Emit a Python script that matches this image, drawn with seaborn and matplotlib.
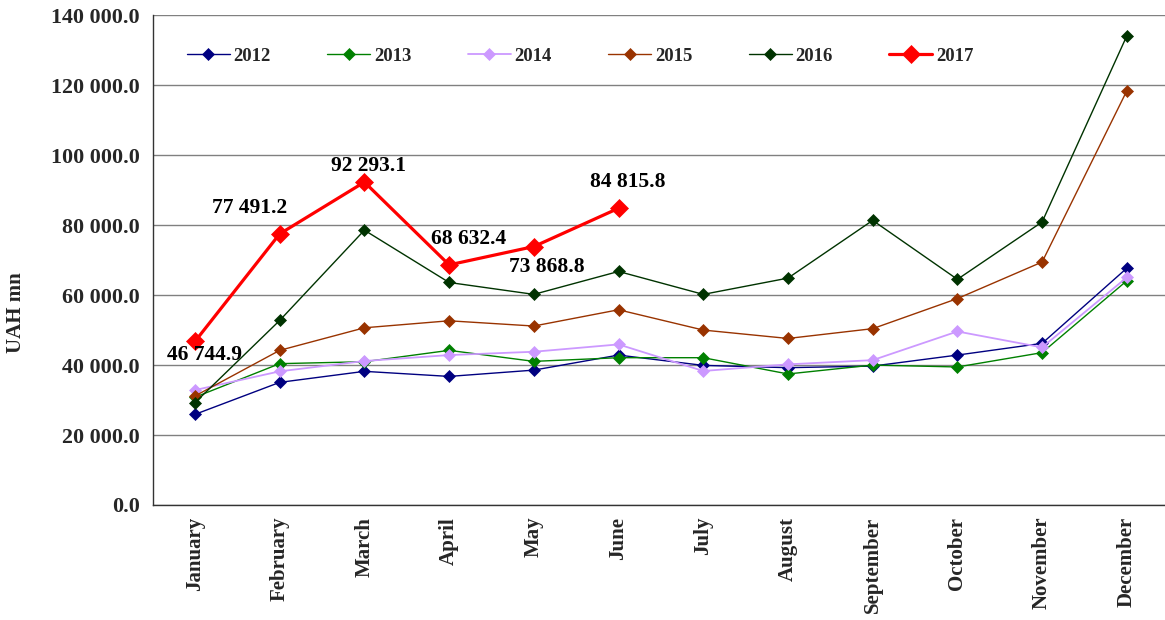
import matplotlib
matplotlib.use("Agg")
import matplotlib.pyplot as plt
import matplotlib.ticker as mticker
import numpy as np
import seaborn as sns

months = ["January", "February", "March", "April", "May", "June", "July",
          "August", "September", "October", "November", "December"]
y2012 = [25900, 35050, 38200, 36750, 38550, 42850, 39900, 39250, 39700, 42850, 46200, 67700]
y2013 = [30800, 40400, 40950, 44200, 41050, 42100, 42100, 37450, 40000, 39450, 43550, 64100]
y2014 = [32850, 38200, 41150, 42850, 43800, 45900, 38300, 40200, 41400, 49600, 45050, 65050]
y2015 = [31150, 44200, 50650, 52650, 51150, 55800, 50000, 47600, 50400, 59000, 69450, 118400]
y2016 = [29250, 52750, 78550, 63600, 60200, 66750, 60200, 64850, 81350, 64500, 80900, 134100]
y2017 = [46744.9, 77491.2, 92293.1, 68632.4, 73868.8, 84815.8]

years = ["2012", "2013", "2014", "2015", "2016", "2017"]
series = [y2012, y2013, y2014, y2015, y2016, y2017]
colors = ["#000080", "#008000", "#CC99FF", "#993300", "#003300", "#FF0000"]

sns.set_theme(style="white")
plt.rcParams["font.family"] = ["Liberation Serif", "DejaVu Serif"]
plt.rcParams["font.weight"] = "bold"

fig = plt.figure(figsize=(11.65, 6.2), dpi=100)
ax = fig.add_axes([0.131, 0.1855, 0.8726, 0.790])

for year, vals, col in zip(years, series, colors):
    big = year == "2017"
    sns.lineplot(x=np.arange(len(vals)), y=vals, ax=ax, color=col, label=year,
                 marker="D", markersize=9 if big else (6.5 if year == "2014" else 5.8),
                 markeredgecolor=col, markeredgewidth=0.5,
                 linewidth=2.3 if big else (1.3 if year == "2014" else 1.0),
                 zorder=5 if big else 3)

# data labels for 2017 (offsets in pixels, as placed in the original)
label_offsets = [(10, -14), (-30, 26), (4, 16), (19, 26), (13, -20), (9, 26)]
for i, (v, off) in enumerate(zip(y2017, label_offsets)):
    ax.annotate(f"{v:,.1f}".replace(",", " "), (i, v), xytext=off,
                textcoords="offset pixels", ha="center", va="center",
                fontsize=15.5, fontweight="bold", color="black", zorder=6)

ax.set_xlim(-0.5, 11.5)
ax.set_ylim(0, 140000)
ax.yaxis.set_major_locator(mticker.MultipleLocator(20000))
ax.yaxis.set_major_formatter(mticker.FuncFormatter(lambda v, p: f"{v:,.1f}".replace(",", " ")))
ax.grid(axis="y", color="#808080", linewidth=1)
ax.set_axisbelow(True)

ax.set_xticks(np.arange(len(months)))
ax.set_xticklabels(months, rotation=90, fontsize=15, fontweight="bold")
ax.set_xticks(np.arange(-0.5, 12, 1), minor=True)
ax.tick_params(axis="x", which="major", length=0, pad=8.5)
ax.tick_params(axis="x", which="minor", length=6, width=1, color="#333333", direction="out")
ax.tick_params(axis="y", length=6, width=1, color="#333333", direction="out",
               labelsize=15.8, pad=3)
for t in ax.get_yticklabels():
    t.set_fontweight("bold")

for s in ["top", "right"]:
    ax.spines[s].set_visible(False)
for s in ["left", "bottom"]:
    ax.spines[s].set_color("#333333")
    ax.spines[s].set_linewidth(1)

ax.set_xlabel("")
ax.set_ylabel("UAH mn", fontsize=15, fontweight="bold")
ax.yaxis.set_label_coords(-0.1245, 0.392)

ax.legend(loc="center left", bbox_to_anchor=(0.017, 0.916), ncol=6, frameon=False,
          prop={"size": 13.5, "weight": "bold"}, handlelength=2.3,
          handletextpad=0.2, columnspacing=3.0)

fig.savefig("out.png", dpi=100)
